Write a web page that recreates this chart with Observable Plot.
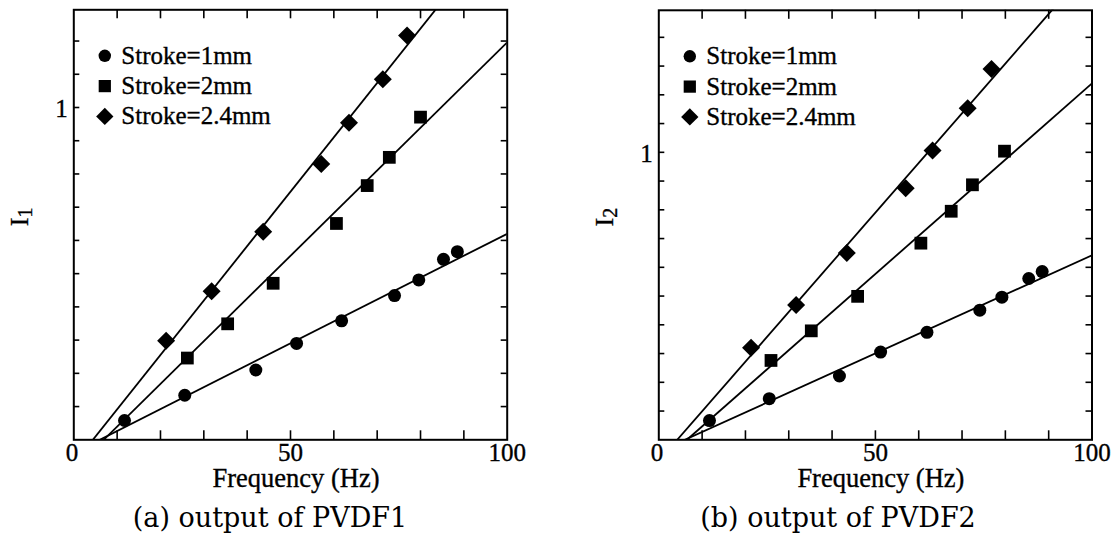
<!DOCTYPE html>
<html>
<head>
<meta charset="utf-8">
<script src="https://cdn.jsdelivr.net/npm/d3@7"></script>
<script src="https://cdn.jsdelivr.net/npm/@observablehq/plot@0.6"></script>
<style>
  html, body { margin: 0; padding: 0; background: #fff; }
  body { width: 1117px; height: 539px; overflow: hidden; position: relative; }
  .panel { position: absolute; top: 0; }
  .panel svg, .panel svg text { font-family: "Liberation Serif", "Times New Roman", Times, serif !important; }
  .panel svg text { stroke: #000; stroke-width: 0.35px; }
  .caption { position: absolute; font-family: "DejaVu Serif", "Liberation Serif", serif; font-size: 27px; line-height: 1; white-space: nowrap; transform: translateX(-50%); color: #000; }
</style>
</head>
<body>
<div id="pa" class="panel" style="left:0px"></div>
<div id="pb" class="panel" style="left:585px"></div>
<div class="caption" style="left:270px; top:504px">(a) output of PVDF1</div>
<div class="caption" style="left:838px; top:504px">(b) output of PVDF2</div>
<script>
// ---- legend / series ----
const seriesNames = ["Stroke=1mm", "Stroke=2mm", "Stroke=2.4mm"];
const seriesSymbols = ["circle", "square", "diamond2"];

// ---- panel (a): PVDF1 ----
const freq1mm_A = [11.7, 25.6, 42.0, 51.4, 61.8, 74.0, 79.6, 85.3, 88.5];
const out1mm_A  = [0.058, 0.134, 0.210, 0.290, 0.358, 0.434, 0.481, 0.543, 0.566];
const freq2mm_A = [26.2, 35.5, 46.0, 60.6, 67.7, 72.8, 80.0];
const out2mm_A  = [0.246, 0.349, 0.471, 0.651, 0.765, 0.850, 0.971];
const freq24mm_A = [21.3, 31.8, 43.7, 57.1, 63.5, 71.3, 76.9];
const out24mm_A  = [0.298, 0.447, 0.626, 0.830, 0.954, 1.085, 1.217];
// fitted lines: start on I=0 at given frequency, end at 100 Hz with given output
const fitStartFreq_A = [6.0, 6.9, 4.4];
const fitEndOut_A    = [0.620, 1.196, 1.565];

// ---- panel (b): PVDF2 ----
const freq1mm_B = [11.7, 25.5, 41.7, 51.2, 61.9, 74.1, 79.2, 85.4, 88.5];
const out1mm_B  = [0.067, 0.143, 0.222, 0.305, 0.374, 0.451, 0.496, 0.561, 0.585];
const freq2mm_B = [25.9, 35.2, 45.9, 60.5, 67.5, 72.4, 79.8];
const out2mm_B  = [0.276, 0.379, 0.499, 0.684, 0.795, 0.887, 1.004];
const freq24mm_B = [21.3, 31.7, 43.4, 57.0, 63.2, 71.3, 76.8];
const out24mm_B  = [0.320, 0.469, 0.650, 0.875, 1.006, 1.153, 1.290];
const fitStartFreq_B = [6.0, 6.5, 4.25];
const fitEndOut_B    = [0.642, 1.240, 1.654];

// ---- axes ----
const xDomain = [0, 100];
const yDomainA = [0, 1.294];
const yDomainB = [0, 1.494];
const xMinorTicks = [10, 20, 30, 40, 50, 60, 70, 80, 90];
const xTickLabels = [50, 100];
const yMinorTicksA = [0.1, 0.2, 0.3, 0.4, 0.5, 0.6, 0.7, 0.8, 0.9, 1.0, 1.1, 1.2];
const yMinorTicksB = [0.1, 0.2, 0.3, 0.4, 0.5, 0.6, 0.7, 0.8, 0.9, 1.0, 1.1, 1.2, 1.3, 1.4];
const yTickLabels = [1];
const xLabel = "Frequency (Hz)";

const FONT = "Liberation Serif, Times New Roman, serif";
const symbolR = [6.5, 7.2, 8.1];

function zip(f, v) { return f.map((d, i) => ({f: d, v: v[i]})); }

function panel({width, marginLeft, marginRight, marginTop, height, yDomain, yTicks, series, fitStart, fitEnd, yTitle}) {
  const marginBottom = height - 439.3;
  const frameH = 439.3 - marginTop;
  const fits = fitStart.map((f, i) => ({f1: f, v1: 0, f2: 100, v2: fitEnd[i]}));
  const marks = [];
  marks.push(Plot.link(fits, {x1: "f1", y1: "v1", x2: "f2", y2: "v2", stroke: "black", strokeWidth: 1.8, clip: true}));
  series.forEach((s, i) => {
    marks.push(Plot.dot(s, {x: "f", y: "v", symbol: () => seriesSymbols[i], r: symbolR[i], fill: "black", stroke: "none"}));
  });
  // legend
  seriesNames.forEach((name, i) => {
    marks.push(Plot.dot([name], {frameAnchor: "top-left", dx: 31, dy: 46 + i * 30.3, symbol: () => seriesSymbols[i], r: symbolR[i] - 0.3, fill: "black", stroke: "none"}));
    marks.push(Plot.text([name], {frameAnchor: "top-left", dx: 47.5, dy: 46 + i * 30.3, text: d => d, textAnchor: "start", lineAnchor: "middle", fontSize: 25, fontFamily: FONT, fill: "black"}));
  });
  marks.push(Plot.frame({stroke: "black", strokeWidth: 2}));
  // inward ticks on all four sides
  marks.push(Plot.tickX(xMinorTicks, {x: d => d, insetTop: frameH - 9, stroke: "black", strokeWidth: 1.6}));
  marks.push(Plot.tickX(xMinorTicks, {x: d => d, insetBottom: frameH - 9, stroke: "black", strokeWidth: 1.6}));
  const plotW = width - marginLeft - marginRight;
  marks.push(Plot.tickY(yTicks, {y: d => d, insetRight: plotW - 6, stroke: "black", strokeWidth: 1.6}));
  marks.push(Plot.tickY(yTicks, {y: d => d, insetLeft: plotW - 6, stroke: "black", strokeWidth: 1.6}));
  // tick labels
  marks.push(Plot.axisX(xTickLabels, {tickSize: 0, tickPadding: 3, fontSize: 25, fontFamily: FONT, label: null, fill: "black", tickFormat: d => String(d)}));
  marks.push(Plot.text(["0"], {frameAnchor: "bottom-left", dx: -8, dy: 13, text: d => d, lineAnchor: "middle", fontSize: 25, fontFamily: FONT, fill: "black"}));
  marks.push(Plot.axisY(yTickLabels, {tickSize: 0, tickPadding: 6, fontSize: 25, fontFamily: FONT, label: null, fill: "black", dy: 2, tickFormat: d => String(d)}));
  // axis titles
  marks.push(Plot.text([xLabel], {frameAnchor: "bottom", dx: 5.5, dy: 39, text: d => d, lineAnchor: "middle", fontSize: 26.5, fontFamily: FONT, fill: "black"}));
  marks.push(Plot.text([yTitle], {frameAnchor: "left", dx: -53.8, dy: -8, text: d => d, rotate: -90, lineAnchor: "middle", textAnchor: "middle", fontSize: 26, fontFamily: FONT, fill: "black"}));

  const svg = Plot.plot({
    width, height, marginLeft, marginRight, marginTop, marginBottom,
    x: {domain: xDomain, axis: null},
    y: {domain: yDomain, axis: null},
    style: {fontFamily: FONT, background: "white", color: "black", overflow: "visible"},
    marks
  });
  // subscript for y title
  svg.querySelectorAll("text").forEach(t => {
    if (t.textContent === yTitle && t.children.length === 0) {
      t.textContent = "";
      const ns = "http://www.w3.org/2000/svg";
      t.appendChild(document.createTextNode("I"));
      const ts = document.createElementNS(ns, "tspan");
      ts.setAttribute("dy", "4");
      ts.setAttribute("font-size", "20");
      ts.textContent = yTitle.slice(1);
      t.appendChild(ts);
    }
  });
  return svg;
}

document.getElementById("pa").appendChild(panel({
  width: 585, marginLeft: 73.3, marginRight: 585 - 506.7, marginTop: 9.3, height: 500,
  yDomain: yDomainA, yTicks: yMinorTicksA,
  series: [zip(freq1mm_A, out1mm_A), zip(freq2mm_A, out2mm_A), zip(freq24mm_A, out24mm_A)],
  fitStart: fitStartFreq_A, fitEnd: fitEndOut_A, yTitle: "I1"
}));
document.getElementById("pb").appendChild(panel({
  width: 532, marginLeft: 73.3, marginRight: 532 - (1091.5 - 585), marginTop: 9.8, height: 500,
  yDomain: yDomainB, yTicks: yMinorTicksB,
  series: [zip(freq1mm_B, out1mm_B), zip(freq2mm_B, out2mm_B), zip(freq24mm_B, out24mm_B)],
  fitStart: fitStartFreq_B, fitEnd: fitEndOut_B, yTitle: "I2"
}));
</script>
</body>
</html>
